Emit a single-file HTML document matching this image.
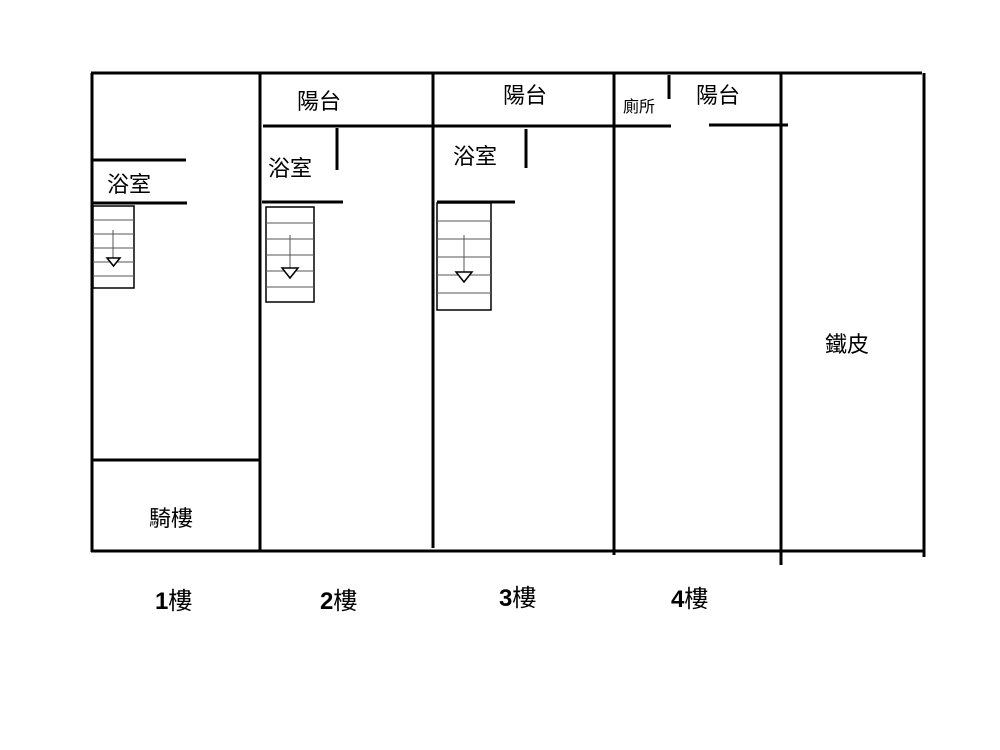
<!DOCTYPE html>
<html><head><meta charset="utf-8"><style>body{margin:0;background:#fff}svg{display:block}</style></head>
<body>
<svg width="1000" height="750" xmlns="http://www.w3.org/2000/svg" font-family="Liberation Sans, Noto Sans CJK TC, sans-serif">
<rect width="1000" height="750" fill="#fff"/>
<g stroke="#000" stroke-width="3" fill="none">
<line x1="91" y1="73" x2="922" y2="73"/>
<line x1="91" y1="551" x2="925" y2="551"/>
<line x1="92" y1="73" x2="92" y2="552"/>
<line x1="260" y1="73" x2="260" y2="552"/>
<line x1="433" y1="73" x2="433" y2="548"/>
<line x1="614" y1="73" x2="614" y2="555"/>
<line x1="781" y1="73" x2="781" y2="565"/>
<line x1="924" y1="73" x2="924" y2="557"/>
<line x1="92" y1="160" x2="186" y2="160"/>
<line x1="92" y1="203" x2="187" y2="203"/>
<line x1="92" y1="460" x2="260" y2="460"/>
<line x1="263" y1="126" x2="671" y2="126"/>
<line x1="337" y1="128" x2="337" y2="170"/>
<line x1="262" y1="202" x2="343" y2="202"/>
<line x1="526" y1="129" x2="526" y2="168"/>
<line x1="437" y1="202" x2="515" y2="202"/>
<line x1="669" y1="75" x2="669" y2="99"/>
<line x1="709" y1="125" x2="788" y2="125"/>
</g>
<g stroke="#000" stroke-width="1.5" fill="none">
<rect x="93" y="206" width="41" height="82"/>
<rect x="266" y="207" width="48" height="95"/>
<rect x="437" y="203" width="54" height="107"/>
</g>
<g stroke="#555" stroke-width="1">
<line x1="93" y1="220" x2="134" y2="220"/><line x1="93" y1="234" x2="134" y2="234"/><line x1="93" y1="248" x2="134" y2="248"/><line x1="93" y1="262" x2="134" y2="262"/><line x1="93" y1="276" x2="134" y2="276"/>
<line x1="266" y1="223" x2="314" y2="223"/><line x1="266" y1="239" x2="314" y2="239"/><line x1="266" y1="255" x2="314" y2="255"/><line x1="266" y1="271" x2="314" y2="271"/><line x1="266" y1="287" x2="314" y2="287"/>
<line x1="437" y1="221" x2="491" y2="221"/><line x1="437" y1="239" x2="491" y2="239"/><line x1="437" y1="257" x2="491" y2="257"/><line x1="437" y1="275" x2="491" y2="275"/><line x1="437" y1="293" x2="491" y2="293"/>
<line x1="113" y1="230" x2="113" y2="258"/>
<line x1="290" y1="235" x2="290" y2="268"/>
<line x1="464" y1="235" x2="464" y2="272"/>
</g>
<g stroke="#000" stroke-width="1.5" fill="#fff">
<polygon points="107,258 120,258 113.5,266"/>
<polygon points="282,268 298,268 290,278"/>
<polygon points="456,272 472,272 464,282"/>
</g>
<g font-size="22" fill="#000">
<text x="107" y="192">浴室</text>
<text x="268" y="176">浴室</text>
<text x="453" y="164">浴室</text>
<text x="297" y="109">陽台</text>
<text x="503" y="103">陽台</text>
<text x="696" y="103">陽台</text>
<text x="149" y="526">騎樓</text>
<text x="825" y="352">鐵皮</text>
<text x="623" y="112" font-size="16">廁所</text>
<g font-size="24">
<text x="155" y="609"><tspan font-weight="bold">1</tspan>樓</text>
<text x="320" y="609"><tspan font-weight="bold">2</tspan>樓</text>
<text x="499" y="606"><tspan font-weight="bold">3</tspan>樓</text>
<text x="671" y="607"><tspan font-weight="bold">4</tspan>樓</text>
</g>
</g>
</svg>
</body></html>
